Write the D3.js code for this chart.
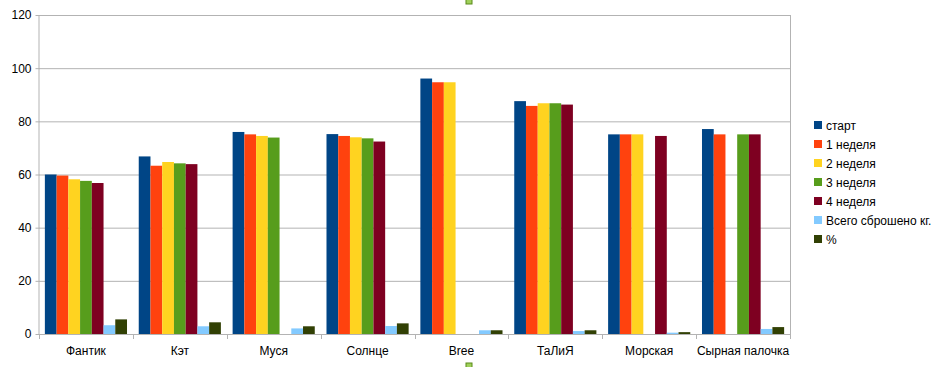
<!DOCTYPE html>
<html><head><meta charset="utf-8">
<script src="https://cdn.jsdelivr.net/npm/d3@7"></script>
<style>body{margin:0;background:#fff}svg{display:block;font-family:"Liberation Sans",Arial,sans-serif}</style>
</head><body><svg id="c" width="937" height="367"></svg>
<script>
const categories = ["Фантик","Кэт","Муся","Солнце","Bree","ТаЛиЯ","Морская","Сырная палочка"];
const seriesNames = ["старт","1 неделя","2 неделя","3 неделя","4 неделя","Всего сброшено кг.","%"];
const start   = [60.0, 66.8, 76.0, 75.2, 96.1, 87.6, 75.1, 77.1];
const week1   = [59.6, 63.3, 75.1, 74.5, 94.7, 85.8, 75.1, 75.1];
const week2   = [58.2, 64.7, 74.5, 74.0, 94.7, 86.8, 75.1, null];
const week3   = [57.6, 64.2, 73.9, 73.6, null, 86.8, null, 75.1];
const week4   = [56.8, 63.9, null, 72.4, null, 86.3, 74.5, 75.1];
const lostKg  = [3.3, 2.9, 2.1, 3.0, 1.4, 1.1, 0.5, 1.9];
const percent = [5.5, 4.4, 2.9, 4.0, 1.4, 1.4, 0.7, 2.6];
const yTicks = [0,20,40,60,80,100,120];
const colors = ["#004586","#ff420e","#ffd320","#579d1c","#7e0021","#83caff","#314004"];

const series = [start,week1,week2,week3,week4,lostKg,percent];
const svg = d3.select("#c");
const L=39, R=790, T=15, B=334;
const x = d3.scaleBand().domain(categories).range([L,R]).padding(0);
const xi = d3.scaleBand().domain(d3.range(series.length)).range([0,x.bandwidth()]).paddingInner(0).paddingOuter(0.5);
const y = d3.scaleLinear().domain([0,120]).range([B,T]);

// gridlines
svg.append("g").selectAll("line").data(yTicks).join("line")
  .attr("x1",L).attr("x2",R).attr("y1",d=>y(d)+0.5).attr("y2",d=>y(d)+0.5)
  .attr("stroke","#b3b3b3").attr("stroke-width",1);
svg.append("line").attr("x1",R+0.5).attr("x2",R+0.5).attr("y1",T).attr("y2",B).attr("stroke","#b3b3b3");

// bars
const g = svg.append("g");
series.forEach((s,si)=>{
  g.append("g").selectAll("rect").data(categories.map((c,i)=>({c,v:s[i]})).filter(d=>d.v!=null)).join("rect")
    .attr("x",d=>x(d.c)+xi(si)).attr("width",xi.bandwidth())
    .attr("y",d=>y(d.v)).attr("height",d=>B-y(d.v)).attr("fill",colors[si]);
});

// y axis
const ya = svg.append("g").attr("transform",`translate(${L+0.5},0)`)
  .call(d3.axisLeft(y).tickValues(yTicks).tickSize(4).tickPadding(4).tickFormat(d3.format("d")));
ya.select(".domain").attr("stroke","#b3b3b3").attr("d",`M-0.5,${T}V${B+0.5}`);
ya.selectAll(".tick line").attr("stroke","#b3b3b3");
ya.selectAll("text").attr("font-size",12).attr("fill","#000").attr("font-family","Liberation Sans, Arial, sans-serif");

// x axis
const xa = svg.append("g").attr("transform",`translate(0,${B+0.5})`)
  .call(d3.axisBottom(x).tickSize(0).tickPadding(12));
xa.select(".domain").attr("stroke","#b3b3b3").attr("d",`M${L},0H${R}`);
xa.selectAll("text").attr("font-size",12).attr("fill","#000").attr("font-family","Liberation Sans, Arial, sans-serif");
svg.append("g").selectAll("line").data(d3.range(categories.length+1)).join("line")
  .attr("x1",i=>Math.round(L+i*x.bandwidth())+0.5).attr("x2",i=>Math.round(L+i*x.bandwidth())+0.5)
  .attr("y1",B).attr("y2",B+5).attr("stroke","#b3b3b3");

// legend
const lg = svg.append("g").attr("transform","translate(814,121)");
const li = lg.selectAll("g").data(seriesNames).join("g").attr("transform",(d,i)=>`translate(0,${i*19})`);
li.append("rect").attr("width",8).attr("height",8).attr("fill",(d,i)=>colors[i]);
li.append("text").attr("x",12).attr("y",8.5).attr("font-size",12).attr("fill","#000").text(d=>d);

// selection handles (decorative)
svg.append("rect").attr("x",466).attr("y",-2).attr("width",6).attr("height",6).attr("fill","#9fd05a").attr("stroke","#5a8a1a");
svg.append("rect").attr("x",466).attr("y",363).attr("width",6).attr("height",6).attr("fill","#9fd05a").attr("stroke","#5a8a1a");
</script></body></html>
